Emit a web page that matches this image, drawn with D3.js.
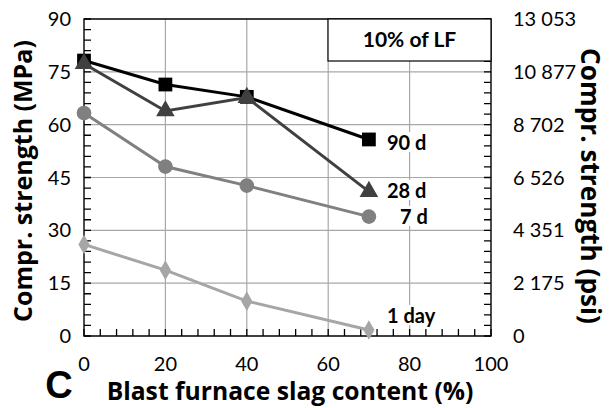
<!DOCTYPE html>
<html><head><meta charset="utf-8">
<script src="https://cdn.jsdelivr.net/npm/d3@7"></script>
<style>body{margin:0;background:#fff}svg{display:block}</style>
</head><body><svg id="c" width="611" height="408"></svg>
<script>
const slag = [0, 20, 40, 70];
const d90 = [78.2, 71.4, 67.9, 55.8];
const d28 = [77.3, 63.9, 67.7, 41.0];
const d7 = [63.3, 48.1, 42.7, 33.9];
const d1 = [26.0, 18.7, 9.9, 1.7];
const seriesNames = ["90 d", "28 d", "7 d", "1 day"];
const xTicks = [0, 20, 40, 60, 80, 100];
const yTicks = [0, 15, 30, 45, 60, 75, 90];
const psiTicks = ["0", "2 175", "4 351", "6 526", "8 702", "10 877", "13 053"];

const svg = d3.select("#c");
const L = 84, R = 491, T = 19, B = 336;
const x = d3.scaleLinear().domain([0, 100]).range([L, R]);
const y = d3.scaleLinear().domain([0, 90]).range([B, T]);
const font = "Lato, 'Open Sans', sans-serif";
const tfont = "'Open Sans', Lato, sans-serif";

// gridlines
const grid = svg.append("g");
grid.selectAll("path.v").data(xTicks.slice(1, -1)).join("path").attr("class", "v")
  .attr("d", d => `M${x(d)},${T}V${B}`)
  .attr("fill", "none").attr("stroke", "#a8a8a8").attr("stroke-width", 1.2);
grid.selectAll("path.h").data(yTicks.slice(1, -1)).join("path").attr("class", "h")
  .attr("d", d => `M${L},${y(d)}H${R}`)
  .attr("fill", "none").attr("stroke", "#a8a8a8").attr("stroke-width", 1.2);

// minor tick marks, inward, and frame
const minorY = d3.range(0, 91, 3);
const minorX = d3.range(0, 101, 4);
const axisG = svg.append("g");
axisG.selectAll("path.ty").data(minorY).join("path").attr("class", "ty")
  .attr("d", v => `M${L},${y(v)}H${L + 7}M${R},${y(v)}H${R - 7}`)
  .attr("fill", "none").attr("stroke", "#000").attr("stroke-width", 1.3);
axisG.selectAll("path.tx").data(minorX).join("path").attr("class", "tx")
  .attr("d", v => `M${x(v)},${B}V${B - 7}`)
  .attr("fill", "none").attr("stroke", "#000").attr("stroke-width", 1.3);
axisG.append("path").attr("d", `M${L},${T}H${R}V${B}H${L}Z`)
  .attr("fill", "none").attr("stroke", "#000").attr("stroke-width", 1.4);

// tick labels
svg.append("g").selectAll("text").data(yTicks).join("text")
  .attr("x", L - 13).attr("y", d => y(d)).attr("dy", "0.35em")
  .attr("text-anchor", "end").attr("font-family", font).attr("font-size", 20)
  .text(d => d);
svg.append("g").selectAll("text").data(yTicks).join("text")
  .attr("x", R + 22).attr("y", d => y(d)).attr("dy", "0.35em")
  .attr("text-anchor", "start").attr("font-family", font).attr("font-size", 20)
  .text((d, i) => psiTicks[i]);
svg.append("g").selectAll("text").data(xTicks).join("text")
  .attr("x", d => x(d)).attr("y", 364).attr("dy", "0.35em")
  .attr("text-anchor", "middle").attr("font-family", font).attr("font-size", 20)
  .text(d => d);

// axis titles, sized to the reference's lengths
function fitText(sel, target) {
  sel.attr("font-size", 20);
  const w = sel.node().getComputedTextLength();
  if (w > 0) sel.attr("font-size", Math.min(30, 20 * target / w));
}
svg.append("text").attr("transform", `translate(23,181) rotate(-90)`)
  .attr("text-anchor", "middle").attr("font-family", tfont)
  .attr("font-weight", "bold").attr("dy", "0.35em").text("Compr. strength (MPa)")
  .call(fitText, 282);
svg.append("text").attr("transform", `translate(589,186) rotate(90)`)
  .attr("text-anchor", "middle").attr("font-family", tfont)
  .attr("font-weight", "bold").attr("dy", "0.3em").text("Compr. strength (psi)")
  .call(fitText, 276);
svg.append("text").attr("x", 290).attr("y", 391).attr("dy", "0.35em")
  .attr("text-anchor", "middle").attr("font-family", tfont)
  .attr("font-weight", "bold").text("Blast furnace slag content (%)")
  .call(fitText, 367);
svg.append("text").attr("x", 59).attr("y", 385).attr("dy", "0.35em")
  .attr("text-anchor", "middle").attr("font-family", "'Liberation Sans', Arial, sans-serif").attr("font-size", 38)
  .attr("font-weight", "bold").text("C");

// legend box
svg.append("rect").attr("x", 328).attr("y", T).attr("width", R - 328).attr("height", 42)
  .attr("fill", "#fff").attr("stroke", "#000").attr("stroke-width", 1.2);
svg.append("text").attr("x", (328 + R) / 2).attr("y", T + 21).attr("dy", "0.35em")
  .attr("text-anchor", "middle").attr("font-family", font).attr("font-size", 21)
  .attr("font-weight", "bold").text("10% of LF");

// series
const series = [
  {vals: d90, color: "#000000", sym: d3.symbolSquare, size: 190},
  {vals: d28, color: "#404040", sym: d3.symbolTriangle, size: 150},
  {vals: d7, color: "#808080", sym: d3.symbolCircle, size: 170},
  {vals: d1, color: "#a6a6a6", sym: d3.symbolDiamond, size: 110}
];
const labelPos = [[387, 143], [387, 191], [400, 217], [387, 316]];
series.forEach((s, si) => {
  const pts = slag.map((v, i) => [x(v), y(s.vals[i])]);
  svg.append("path").attr("d", d3.line()(pts)).attr("fill", "none")
    .attr("stroke", s.color).attr("stroke-width", 3);
  svg.append("g").selectAll("path").data(pts).join("path")
    .attr("transform", d => `translate(${d[0]},${d[1]})`)
    .attr("d", d3.symbol().type(s.sym).size(s.size)).attr("fill", s.color);
});
const labelLayer = svg.append("g");
seriesNames.forEach((name, si) => {
  const bg = labelLayer.append("rect").attr("fill", "#fff");
  const t = labelLayer.append("text").attr("x", labelPos[si][0]).attr("y", labelPos[si][1]).attr("dy", "0.35em")
    .attr("font-family", font).attr("font-size", 20).attr("font-weight", "bold").text(name);
  const bb = t.node().getBBox();
  bg.attr("x", bb.x - 3).attr("y", bb.y + 2).attr("width", bb.width + 6).attr("height", Math.max(0, bb.height - 4));
});
</script></body></html>
